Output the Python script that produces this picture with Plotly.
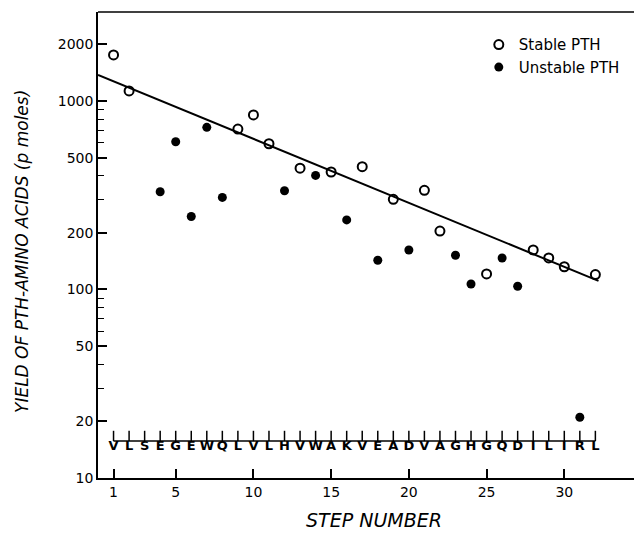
import plotly.graph_objects as go

# ---- data ----
steps_stable = [1, 2, 9, 10, 11, 13, 15, 17, 19, 21, 22, 25, 28, 29, 30, 32]
yield_stable = [1755, 1130, 710, 843, 593, 440, 420, 448, 301, 336, 204, 121, 162, 147, 132, 120]

steps_unstable = [4, 5, 6, 7, 8, 12, 14, 16, 18, 20, 23, 24, 26, 27, 31]
yield_unstable = [330, 608, 244, 725, 308, 334, 403, 234, 143, 162, 152, 107, 147, 104, 21]

fit_steps = [0, 32.2]
fit_yield = [1375, 111]

residues = list("VLSEGEWQLVLHVWAKVEADVAGHGQDILIRL")
residue_steps = list(range(1, len(residues) + 1))

x_tickvals = [1, 5, 10, 15, 20, 25, 30]
y_tickvals = [10, 20, 50, 100, 200, 500, 1000, 2000]
y_ticktext = ["10", "20", "50", "100", "200", "500", "1000", "2000"]
y_minor = [30, 40, 60, 70, 80, 90, 300, 400, 600, 700, 800, 900]

# ---- style / layout constants ----
FONT = "DejaVu Sans"
RULER_Y = 15.7
RULER_TICK_TOP = 17.8
LETTER_Y = 14.6

fig = go.Figure()

# regression line
fig.add_trace(go.Scatter(
    x=fit_steps, y=fit_yield, mode="lines",
    line=dict(color="black", width=2), showlegend=False, hoverinfo="skip"))

# sequence ruler
rx, ry = [residue_steps[0], residue_steps[-1], None], [RULER_Y, RULER_Y, None]
for s in residue_steps:
    rx += [s, s, None]
    ry += [RULER_Y, RULER_TICK_TOP, None]
fig.add_trace(go.Scatter(
    x=rx, y=ry, mode="lines", line=dict(color="black", width=1.5),
    showlegend=False, hoverinfo="skip"))
fig.add_trace(go.Scatter(
    x=residue_steps, y=[LETTER_Y] * len(residues), mode="text", text=residues,
    textposition="middle center",
    textfont=dict(family=FONT, size=13, color="black", weight="bold"),
    showlegend=False, hoverinfo="skip"))

# data points
fig.add_trace(go.Scatter(
    x=steps_stable, y=yield_stable, mode="markers", name="Stable PTH",
    marker=dict(symbol="circle-open", size=9, color="black", line=dict(width=2))))
fig.add_trace(go.Scatter(
    x=steps_unstable, y=yield_unstable, mode="markers", name="Unstable PTH",
    marker=dict(symbol="circle", size=9, color="black")))

# page body has an 8px margin, so the figure is sized/offset to compensate
fig.update_layout(
    width=634, height=525,
    margin=dict(l=90, r=0, t=4, b=55),
    paper_bgcolor="white", plot_bgcolor="white",
    font=dict(family=FONT, size=14, color="black"),
    legend=dict(x=0.70, y=0.965, xanchor="left", yanchor="top",
                bgcolor="rgba(0,0,0,0)", font=dict(size=15, family=FONT),
                itemwidth=30, tracegroupgap=0),
    xaxis=dict(range=[0, 35], showgrid=False, zeroline=False,
               showline=True, linecolor="black", linewidth=1.5,
               ticks="inside", ticklen=9, tickwidth=1.5, tickcolor="black",
               tickvals=x_tickvals, tickfont=dict(size=14)),
    yaxis=dict(type="log", range=[1, 3.472], showgrid=False, zeroline=False,
               showline=True, linecolor="black", linewidth=1.5,
               ticks="inside", ticklen=9, tickwidth=1.5, tickcolor="black",
               tickvals=y_tickvals, ticktext=y_ticktext, tickfont=dict(size=14),
               minor=dict(tickvals=y_minor, ticks="inside", ticklen=6,
                          tickwidth=1.2, tickcolor="black", showgrid=False)),
    shapes=[dict(type="line", xref="paper", yref="paper", x0=0, x1=1, y0=1, y1=1,
                 line=dict(color="black", width=1.5))],
    annotations=[
        dict(text="YIELD OF PTH-AMINO ACIDS (p moles)", xref="paper", yref="paper",
             x=0, y=0.485, xanchor="center", yanchor="middle", xshift=-76,
             textangle=-90, showarrow=False,
             font=dict(family=FONT, size=17, style="italic")),
        dict(text="STEP NUMBER", xref="paper", yref="paper",
             x=0.507, y=0, xanchor="center", yanchor="middle", yshift=-42,
             showarrow=False, font=dict(family=FONT, size=19, style="italic")),
    ],
)

fig.write_html("out.html")
